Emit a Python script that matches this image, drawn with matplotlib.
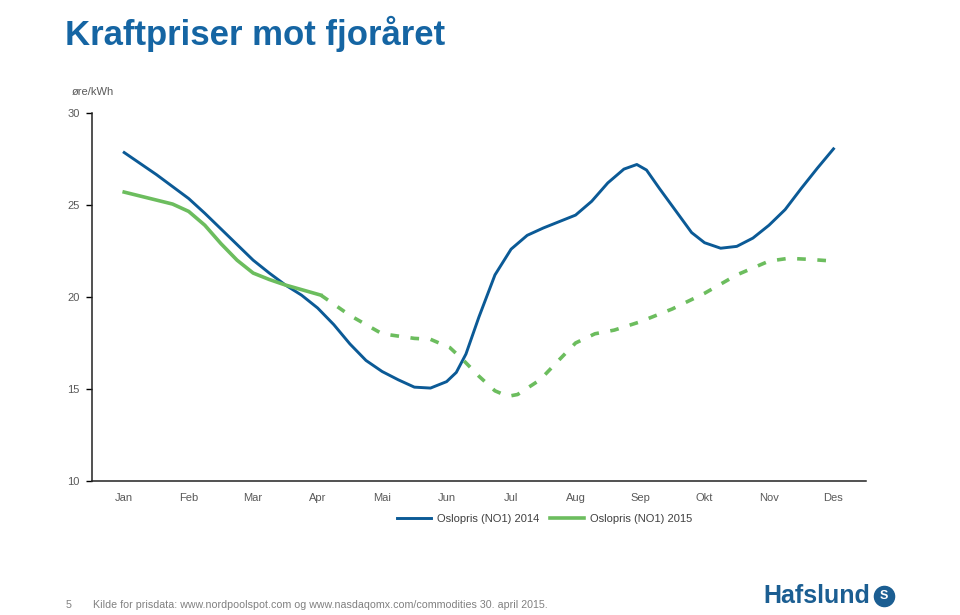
#!/usr/bin/env python

import matplotlib
matplotlib.use('Agg')
import matplotlib.pyplot as plt
from matplotlib.lines import Line2D

plt.rcParams['font.family'] = ['Liberation Sans', 'DejaVu Sans']

months = ['Jan', 'Feb', 'Mar', 'Apr', 'Mai', 'Jun',
          'Jul', 'Aug', 'Sep', 'Okt', 'Nov', 'Des']
yticks = [10, 15, 20, 25, 30]

# Oslopris (NO1) 2014, positions in months from Jan
x_2014 = [0.0, 0.25, 0.5, 0.75, 1.0, 1.25, 1.5, 1.75, 2.0, 2.25, 2.5, 2.75,
          3.0, 3.25, 3.5, 3.75, 4.0, 4.25, 4.5, 4.75, 5.0, 5.15, 5.3, 5.5,
          5.75, 6.0, 6.25, 6.5, 6.75, 7.0, 7.25, 7.5, 7.75, 7.95, 8.1, 8.3,
          8.55, 8.8, 9.0, 9.25, 9.5, 9.75, 10.0, 10.25, 10.5, 10.75, 11.0]
y_2014 = [27.85, 27.25, 26.65, 26.0, 25.35, 24.55, 23.7, 22.85, 22.0, 21.3,
          20.65, 20.1, 19.4, 18.5, 17.45, 16.55, 15.95, 15.5, 15.1, 15.05,
          15.4, 15.9, 16.9, 18.9, 21.2, 22.6, 23.35, 23.75, 24.1, 24.45, 25.2,
          26.2, 26.95, 27.2, 26.9, 25.9, 24.7, 23.5, 22.95, 22.65, 22.75, 23.2,
          23.9, 24.75, 25.9, 27.0, 28.05]

# Oslopris (NO1) 2015, realised
x_2015 = [0.0, 0.75, 1.0, 1.25, 1.5, 1.75, 2.0, 2.25, 2.5, 3.05]
y_2015 = [25.7, 25.05, 24.65, 23.9, 22.9, 22.0, 21.3, 20.95, 20.65, 20.1]

# 2015 forward prices (dashed)
x_fwd = [3.05, 3.5, 4.0, 4.5, 4.75, 5.05, 5.25, 5.5, 5.75, 5.95, 6.1, 6.45,
         6.75, 7.0, 7.3, 7.6, 8.0, 8.5, 9.0, 9.5, 10.0, 10.3, 10.6, 11.0]
y_fwd = [20.1, 19.0, 18.0, 17.75, 17.7, 17.25, 16.6, 15.7, 14.9, 14.6, 14.7,
         15.5, 16.6, 17.5, 18.0, 18.2, 18.65, 19.35, 20.2, 21.2, 21.95, 22.1,
         22.05, 21.95]

blue = '#0b5a96'
green = '#6cbd5e'
grey = '#595959'
logo_blue = '#1b5e92'


def main():
    fig = plt.figure(figsize=(9.6, 6.15), dpi=100)
    ax = fig.add_axes([0.0958, 0.2179, 0.806, 0.5984])

    ax.plot(x_2014, y_2014, color=blue, lw=2.1, label='Oslopris (NO1) 2014',
            solid_joinstyle='round')
    ax.plot(x_2015, y_2015, color=green, lw=2.6, label='Oslopris (NO1) 2015',
            solid_joinstyle='round')
    ax.plot(x_fwd, y_fwd, color=green, lw=2.6, dashes=(2.4, 3.2))

    ax.set_xlim(-0.5, 11.5)
    ax.set_ylim(10, 30)
    ax.set_xticks(range(len(months)))
    ax.set_xticklabels(months)
    ax.set_yticks(yticks)
    ax.tick_params(axis='x', length=0, pad=9, labelsize=8, labelcolor=grey)
    ax.tick_params(axis='y', direction='out', length=4, width=1, pad=5,
                   labelsize=8, labelcolor=grey)
    for s in ['top', 'right']:
        ax.spines[s].set_visible(False)
    for s in ['left', 'bottom']:
        ax.spines[s].set_linewidth(1.1)
        ax.spines[s].set_color('#222222')

    ax.legend(loc='center', bbox_to_anchor=(0.585, -0.103), ncol=2,
              frameon=False, fontsize=8, handlelength=3.0, columnspacing=1.0,
              handletextpad=0.55, labelcolor='#404040')

    fig.text(0.068, 0.975, 'Kraftpriser mot fjoråret', fontsize=25,
             fontweight='bold', color='#1565a3', va='top')
    fig.text(0.075, 0.851, 'øre/kWh', fontsize=8, color=grey, va='center')

    fig.text(0.068, 0.012, '5', fontsize=7.7, color='#808080')
    fig.text(0.097, 0.012,
             'Kilde for prisdata: www.nordpoolspot.com og '
             'www.nasdaqomx.com/commodities 30. april 2015.',
             fontsize=7.7, color='#808080')

    # logo
    fig.text(0.795, 0.0195, 'Hafslund', fontsize=18, fontweight='bold',
             color=logo_blue, va='baseline')
    fig.add_artist(Line2D([0.921], [0.031], transform=fig.transFigure,
                          marker='o', markersize=14.5, color=logo_blue, lw=0))
    fig.text(0.921, 0.031, 'S', fontsize=9, fontweight='bold', color='white',
             ha='center', va='center')

    plt.savefig('out.png', dpi=100)
    plt.close()


if __name__ == "__main__":
    main()
